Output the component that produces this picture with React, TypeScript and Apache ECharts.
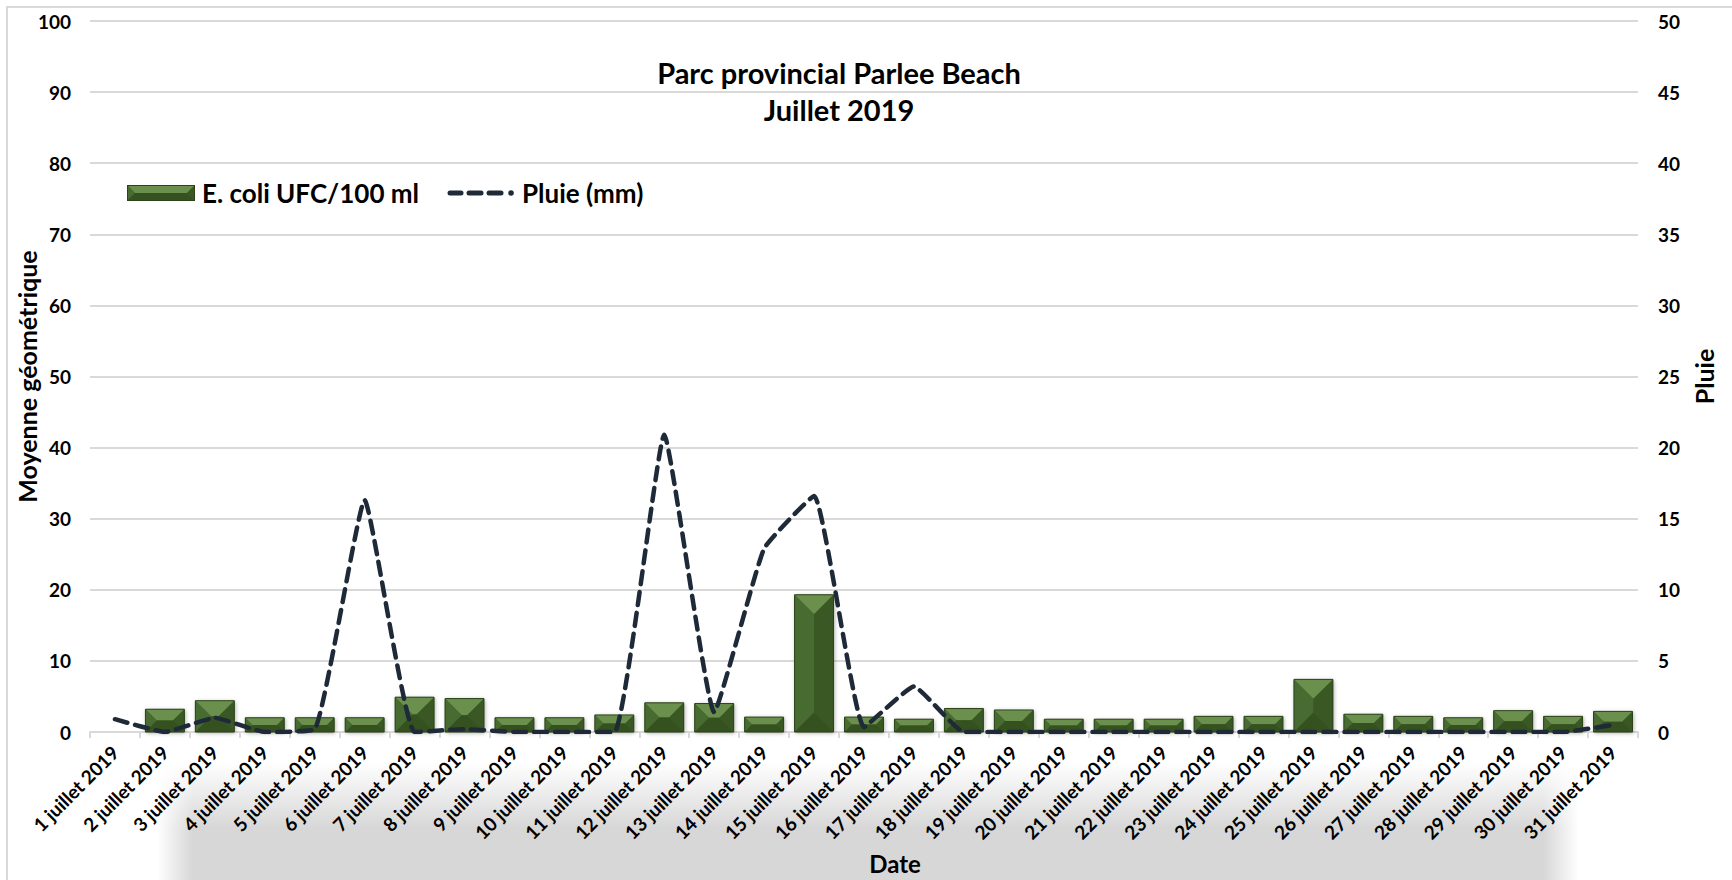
import React, { useEffect, useRef } from "react";
import * as echarts from "echarts";

const days: string[] = [
  "1 juillet 2019", "2 juillet 2019", "3 juillet 2019", "4 juillet 2019", "5 juillet 2019",
  "6 juillet 2019", "7 juillet 2019", "8 juillet 2019", "9 juillet 2019", "10 juillet 2019",
  "11 juillet 2019", "12 juillet 2019", "13 juillet 2019", "14 juillet 2019", "15 juillet 2019",
  "16 juillet 2019", "17 juillet 2019", "18 juillet 2019", "19 juillet 2019", "20 juillet 2019",
  "21 juillet 2019", "22 juillet 2019", "23 juillet 2019", "24 juillet 2019", "25 juillet 2019",
  "26 juillet 2019", "27 juillet 2019", "28 juillet 2019", "29 juillet 2019", "30 juillet 2019",
  "31 juillet 2019",
];

const ecoli: (number | null)[] = [
  null, 3.2, 4.4, 2.0, 2.0, 2.0, 4.9, 4.7, 2.0, 2.0,
  2.4, 4.1, 4.0, 2.1, 19.3, 2.1, 1.8, 3.3, 3.1, 1.8,
  1.8, 1.8, 2.2, 2.2, 7.4, 2.5, 2.2, 2.0, 3.0, 2.2,
  2.9,
];

const pluie: number[] = [
  0.9, 0, 1.0, 0, 0.2, 16.3, 0, 0.2, 0, 0,
  0, 20.9, 1.4, 12.9, 16.6, 0.35, 3.2, 0, 0, 0,
  0, 0, 0, 0, 0, 0, 0, 0, 0, 0,
  0.5,
];

const leftTicks = { min: 0, max: 100, interval: 10 };
const rightTicks = { min: 0, max: 50, interval: 5 };

const FONT = "Lato, 'Open Sans', sans-serif";
const C_FACE = "#40612a";
const C_TOP = "#6b904e";
const C_LEFT = "#486b31";
const C_RIGHT = "#395823";
const C_BOTTOM = "#34511f";
const C_EDGE = "#2c4319";
const C_LINE = "#1f2a38";

const barIconSvg =
  '<svg xmlns="http://www.w3.org/2000/svg" width="68" height="16" viewBox="0 0 68 16">' +
  '<rect x="0" y="0" width="68" height="16" fill="' + C_FACE + '"/>' +
  '<polygon points="0,0 68,0 60,8 8,8" fill="' + C_TOP + '"/>' +
  '<polygon points="0,0 8,8 0,16" fill="' + C_LEFT + '"/>' +
  '<polygon points="68,0 68,16 60,8" fill="' + C_RIGHT + '"/>' +
  '<polygon points="0,16 8,8 60,8 68,16" fill="' + C_BOTTOM + '"/>' +
  '<rect x="0.5" y="0.5" width="67" height="15" fill="none" stroke="' + C_EDGE + '" stroke-width="1"/>' +
  "</svg>";
const lineIconSvg =
  '<svg xmlns="http://www.w3.org/2000/svg" width="68" height="16" viewBox="0 0 68 16">' +
  '<g stroke="' + C_LINE + '" stroke-width="5" stroke-linecap="round">' +
  '<line x1="3" y1="8" x2="14" y2="8"/>' +
  '<line x1="22" y1="8" x2="34" y2="8"/>' +
  '<line x1="42" y1="8" x2="54" y2="8"/>' +
  "</g>" +
  '<circle cx="64" cy="8" r="2.8" fill="' + C_LINE + '"/>' +
  "</svg>";
const toIcon = (s: string) => "image://data:image/svg+xml;charset=utf-8," + encodeURIComponent(s);

export default function App() {
  const ref = useRef<HTMLDivElement>(null);

  useEffect(() => {
    if (!ref.current) return;
    const chart = echarts.init(ref.current, null, { renderer: "svg" });

    const barData = ecoli.map((v, i) => [i, v == null ? "-" : v]);

    const option: any = {
      animation: false,
      backgroundColor: "#ffffff",
      title: {
        text: "Parc provincial Parlee Beach\nJuillet 2019",
        left: 834,
        top: 49,
        textAlign: "center",
        textStyle: {
          fontFamily: FONT,
          fontSize: 29,
          fontWeight: "bold",
          color: "#000",
          lineHeight: 37,
        },
      },
      legend: {
        left: 122,
        top: 175,
        itemWidth: 68,
        itemHeight: 16,
        itemGap: 28,
        data: [
          { name: "E. coli UFC/100 ml", icon: toIcon(barIconSvg) },
          { name: "Pluie (mm)", icon: toIcon(lineIconSvg) },
        ],
        textStyle: {
          fontFamily: FONT,
          fontSize: 26,
          fontWeight: "bold",
          color: "#000",
          padding: [0, 0, 0, 2],
        },
      },
      grid: { left: 90, right: 94, top: 21, bottom: 148, containLabel: false },
      xAxis: {
        type: "category",
        data: days,
        boundaryGap: true,
        name: "Date",
        nameLocation: "middle",
        nameGap: 119,
        nameTextStyle: {
          fontFamily: FONT,
          fontSize: 24,
          fontWeight: "bold",
          color: "#000",
          padding: [0, 0, 0, 62],
        },
        axisLine: { lineStyle: { color: "#d9d9d9", width: 2 } },
        axisTick: { show: true, interval: 0, length: 6, lineStyle: { color: "#d9d9d9", width: 2 } },
        axisLabel: {
          interval: 0,
          rotate: 45,
          margin: 17,
          fontFamily: FONT,
          fontSize: 19,
          fontWeight: "bold",
          color: "#000",
        },
      },
      yAxis: [
        {
          type: "value",
          ...leftTicks,
          name: "Moyenne géométrique",
          nameLocation: "middle",
          nameGap: 51,
          nameRotate: 90,
          nameMoveOverlap: false,
          nameTextStyle: { fontFamily: FONT, fontSize: 25, fontWeight: "bold", color: "#000" },
          axisLine: { show: false },
          axisTick: { show: false },
          axisLabel: { margin: 19, fontFamily: FONT, fontSize: 19, fontWeight: "bold", color: "#000" },
          splitLine: { show: true, lineStyle: { color: "#d9d9d9", width: 2 } },
        },
        {
          type: "value",
          position: "right",
          ...rightTicks,
          name: "Pluie",
          nameLocation: "middle",
          nameGap: 53,
          nameRotate: 90,
          nameTextStyle: { fontFamily: FONT, fontSize: 25, fontWeight: "bold", color: "#000" },
          axisLine: { show: false },
          axisTick: { show: false },
          axisLabel: { margin: 20, fontFamily: FONT, fontSize: 19, fontWeight: "bold", color: "#000" },
          splitLine: { show: false },
        },
      ],
      graphic: [
        {
          type: "rect",
          z: -10,
          silent: true,
          shape: { x: 158, y: 762, width: 1420, height: 120 },
          style: {
            fill: new echarts.graphic.LinearGradient(0, 0, 0, 1, [
              { offset: 0, color: "rgba(215,215,215,0)" },
              { offset: 0.55, color: "rgba(215,215,215,1)" },
              { offset: 1, color: "rgba(215,215,215,1)" },
            ]),
          },
        },
        {
          type: "rect",
          z: -9,
          silent: true,
          shape: { x: 157, y: 758, width: 36, height: 124 },
          style: {
            fill: new echarts.graphic.LinearGradient(0, 0, 1, 0, [
              { offset: 0, color: "rgba(255,255,255,1)" },
              { offset: 1, color: "rgba(255,255,255,0)" },
            ]),
          },
        },
        {
          type: "rect",
          z: -9,
          silent: true,
          shape: { x: 1543, y: 758, width: 36, height: 124 },
          style: {
            fill: new echarts.graphic.LinearGradient(0, 0, 1, 0, [
              { offset: 0, color: "rgba(255,255,255,0)" },
              { offset: 1, color: "rgba(255,255,255,1)" },
            ]),
          },
        },
        {
          type: "rect",
          z: -8,
          silent: true,
          shape: { x: 7, y: 7, width: 1740, height: 900 },
          style: { fill: "none", stroke: "#d9d9d9", lineWidth: 2 },
        },
      ],
      series: [
        {
          name: "E. coli UFC/100 ml",
          type: "custom",
          xAxisIndex: 0,
          yAxisIndex: 0,
          encode: { x: 0, y: 1 },
          data: barData,
          z: 2,
          renderItem: (params: any, api: any) => {
            const v = api.value(1);
            if (v == null || isNaN(v)) return null;
            const idx = api.value(0);
            const top = api.coord([idx, v]);
            const base = api.coord([idx, 0]);
            const bw = api.size([1, 0])[0] * 0.78;
            const x0 = top[0] - bw / 2;
            const x1 = top[0] + bw / 2;
            const y0 = top[1];
            const y1 = base[1];
            const h = y1 - y0;
            const b = Math.min(bw / 2, h / 2);
            return {
              type: "group",
              children: [
                {
                  type: "rect",
                  shape: { x: x0, y: y0, width: bw, height: h },
                  style: {
                    fill: C_FACE,
                    shadowBlur: 4,
                    shadowColor: "rgba(0,0,0,0.35)",
                    shadowOffsetX: 1,
                    shadowOffsetY: 1,
                  },
                },
                {
                  type: "polygon",
                  shape: { points: [[x0, y0], [x1, y0], [x1 - b, y0 + b], [x0 + b, y0 + b]] },
                  style: { fill: C_TOP },
                },
                {
                  type: "polygon",
                  shape: { points: [[x0, y0], [x0 + b, y0 + b], [x0 + b, y1 - b], [x0, y1]] },
                  style: { fill: C_LEFT },
                },
                {
                  type: "polygon",
                  shape: { points: [[x1, y0], [x1, y1], [x1 - b, y1 - b], [x1 - b, y0 + b]] },
                  style: { fill: C_RIGHT },
                },
                {
                  type: "polygon",
                  shape: { points: [[x0, y1], [x0 + b, y1 - b], [x1 - b, y1 - b], [x1, y1]] },
                  style: { fill: C_BOTTOM },
                },
                {
                  type: "rect",
                  shape: { x: x0, y: y0, width: bw, height: h },
                  style: { fill: "none", stroke: C_EDGE, lineWidth: 1 },
                },
              ],
            };
          },
        },
        {
          name: "Pluie (mm)",
          type: "line",
          xAxisIndex: 0,
          yAxisIndex: 1,
          data: pluie,
          symbol: "none",
          smooth: 0.12,
          z: 3,
          lineStyle: { color: C_LINE, width: 4.5, type: [13, 8], cap: "round" },
          itemStyle: { color: C_LINE },
        },
      ],
    };

    chart.setOption(option);
    return () => chart.dispose();
  }, []);

  return (
    <div
      ref={ref}
      style={{ position: "fixed", left: 0, top: 0, width: 1732, height: 880, background: "#fff" }}
    />
  );
}
